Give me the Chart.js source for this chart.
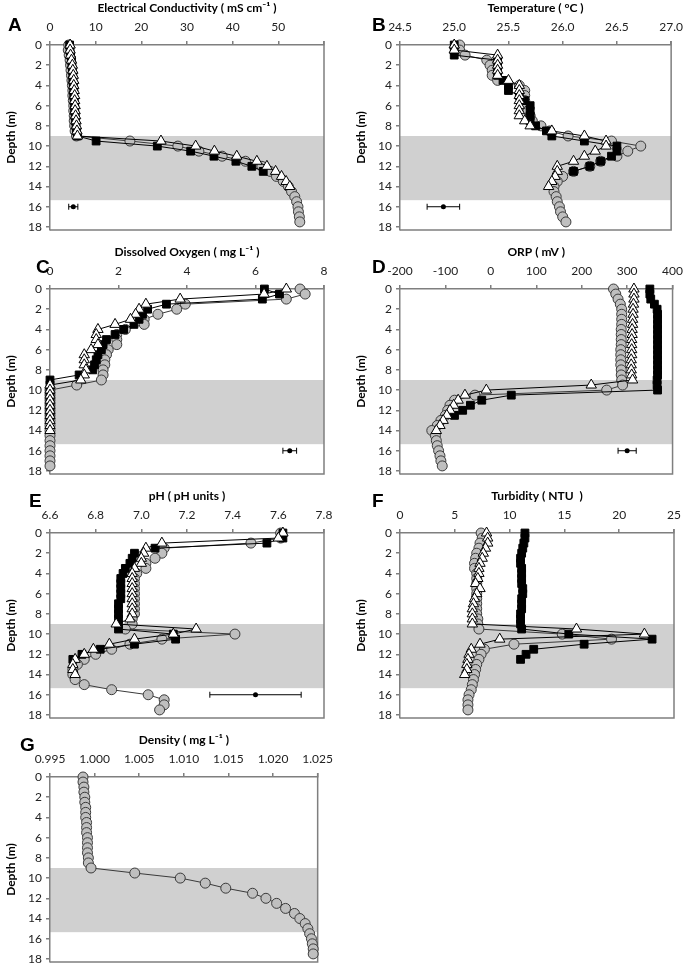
<!DOCTYPE html>
<html>
<head>
<meta charset="utf-8">
<script src="https://cdn.jsdelivr.net/npm/chart.js@4.4.0/dist/chart.umd.min.js"></script>
<style>
  body { margin: 0; background: #fff; width: 685px; height: 964px; position: relative; overflow: hidden; }
  .panel { position: absolute; width: 340px; height: 244px; }
  .tag { position: absolute; font: bold 19px 'Liberation Sans', Arial, sans-serif; line-height: 19px; color: #000; }
</style>
</head>
<body>
<div class="panel" style="left:0;top:0"><canvas id="chartA" width="340" height="244"></canvas></div>
<div class="panel" style="left:350px;top:0"><canvas id="chartB" width="340" height="244"></canvas></div>
<div class="panel" style="left:0;top:244px"><canvas id="chartC" width="340" height="244"></canvas></div>
<div class="panel" style="left:350px;top:244px"><canvas id="chartD" width="340" height="244"></canvas></div>
<div class="panel" style="left:0;top:488px"><canvas id="chartE" width="340" height="244"></canvas></div>
<div class="panel" style="left:350px;top:488px"><canvas id="chartF" width="340" height="244"></canvas></div>
<div class="panel" style="left:0;top:732px"><canvas id="chartG" width="340" height="244"></canvas></div>
<div class="tag" style="left:8px;top:15px">A</div>
<div class="tag" style="left:372px;top:15px">B</div>
<div class="tag" style="left:36px;top:257px">C</div>
<div class="tag" style="left:372px;top:257px">D</div>
<div class="tag" style="left:29px;top:491px">E</div>
<div class="tag" style="left:372px;top:491px">F</div>
<div class="tag" style="left:20px;top:735px">G</div>
<script>
/* depth profiles: squares, triangles, circles; grey band = transition layer */

const depths = [0, 0.5, 1, 1.5, 2, 2.5, 3, 3.5, 4, 4.5, 5, 5.5, 6, 6.5, 7, 7.5, 8, 8.5, 9,
  9.5, 10, 10.5, 11, 11.5, 12, 12.5, 13, 13.5, 14, 14.5, 15, 15.5, 16, 16.5, 17, 17.5];
const depthTicks = [0, 2, 4, 6, 8, 10, 12, 14, 16, 18];
const band = [9, 15.35];
const errDepth = 16;

// A  Electrical conductivity
const ecTicks = [0, 10, 20, 30, 40, 50, 60];
const ecLabels = ['0', '10', '20', '30', '40', '50', ''];
const ecSquare = [4.3, 4.4, 4.5, 4.7, 4.8, 4.9, 5.0, 5.0, 5.1, 5.2, 5.2, 5.3, 5.4, 5.4, 5.5, 5.6, 5.7, 5.8, 6.0,
  10.1, 23.5, 30.8, 35.9, 40.7, 44.2, 46.7];
const ecTriangle = [4.4, 4.4, 4.5, 4.7, 4.9, 5.0, 5.1, 5.2, 5.2, 5.3, 5.4, 5.4, 5.5, 5.5, 5.6, 5.7, 5.8, 5.9, 6.0,
  24.3, 31.9, 36.0, 40.9, 45.3, 47.5, 49.4, 50.7, 51.7, 52.5];
const ecCircle = [4.1, 4.0, 4.2, 4.4, 4.5, 4.6, 4.7, 4.8, 4.9, 5.0, 5.0, 5.1, 5.2, 5.2, 5.3, 5.3, 5.4, 5.5, 5.8,
  17.5, 28.0, 32.6, 37.7, 42.8, 46.4, 48.2, 49.6, 51.1, 52.2, 52.9, 53.6, 54.0, 54.3, 54.4, 54.6, 54.7];
const ecError = [5.1, 1.0];

// B  Temperature
const tTicks = [24.5, 25.0, 25.5, 26.0, 26.5, 27.0];
const tLabels = ['24.5', '25.0', '25.5', '26.0', '26.5', '27.0'];
const tSquare = [25.0, 25.0, 25.0, 25.4, 25.4, 25.4, 25.4, 25.45, 25.5, 25.5, 25.6, 25.65, 25.7, 25.7, 25.7, 25.7, 25.75, 25.85, 25.9,
  26.2, 26.5, 26.5, 26.45, 26.35, 26.25, 26.1];
const tTriangle = [25.0, 25.0, 25.4, 25.4, 25.4, 25.4, 25.4, 25.5, 25.6, 25.6, 25.6, 25.6, 25.6, 25.6, 25.6, 25.65, 25.7, 25.9, 26.2,
  26.4, 26.4, 26.3, 26.2, 26.1, 25.95, 25.95, 25.93, 25.9, 25.87];
const tCircle = [25.05, 25.05, 25.1, 25.3, 25.33, 25.35, 25.35, 25.4, 25.6, 25.65, 25.65, 25.65, 25.65, 25.68, 25.7, 25.72, 25.8, 25.88, 26.05,
  26.45, 26.72, 26.6, 26.5, 26.35, 26.25, 26.1, 26.0, 25.95, 25.92, 25.92, 25.94, 25.95, 25.97, 25.98, 26.0, 26.03];
const tError = [24.9, 0.15];

// C  Dissolved oxygen
const doTicks = [0, 2, 4, 6, 8];
const doLabels = ['0', '2', '4', '6', '8'];
const doSquare = [6.26, 6.7, 6.2, 3.4, 2.85, 2.7, 2.6, 2.45, 2.15, 1.9, 1.65, 1.55, 1.5, 1.4, 1.35, 1.3, 1.25, 0.85, 0,
  0, 0, 0, 0, 0, 0, 0];
const doTriangle = [6.9, 6.25, 3.8, 2.8, 2.6, 2.5, 2.35, 1.9, 1.4, 1.35, 1.35, 1.4, 1.2, 1.0, 1.0, 1.0, 1.05, 1.0, 0.9,
  0, 0, 0, 0, 0, 0, 0, 0, 0, 0];
const doCircle = [7.3, 7.45, 6.9, 3.95, 3.7, 3.15, 2.75, 2.75, 2.2, 1.95, 1.95, 1.95, 1.7, 1.65, 1.6, 1.6, 1.55, 1.55, 1.5,
  0.78, 0, 0, 0, 0, 0, 0, 0, 0, 0, 0, 0, 0, 0, 0, 0, 0];
const doError = [7.0, 0.2];

// D  ORP
const orpTicks = [-200, -100, 0, 100, 200, 300, 400];
const orpLabels = ['-200', '-100', '0', '100', '200', '300', '400'];
const orpSquare = [350, 350, 352, 360, 366, 367, 367, 367, 367, 367, 367, 367, 367, 367, 367, 367, 367, 367, 366,
  366, 367, 45, -20, -45, -62, -80];
const orpTriangle = [315, 315, 315, 314, 313, 313, 312, 312, 311, 311, 310, 310, 310, 310, 309, 309, 309, 310, 312,
  221, -10, -57, -72, -82, -90, -97, -105, -112, -120];
const orpCircle = [270, 275, 280, 285, 288, 288, 288, 288, 287, 287, 287, 287, 286, 286, 286, 286, 287, 287, 288,
  290, 255, -35, -80, -90, -95, -100, -110, -118, -130, -122, -120, -118, -115, -112, -110, -107];
const orpError = [300, 20];

// E  pH
const phTicks = [6.6, 6.8, 7.0, 7.2, 7.4, 7.6, 7.8];
const phLabels = ['6.6', '6.8', '7.0', '7.2', '7.4', '7.6', '7.8'];
const phSquare = [7.62, 7.62, 7.55, 7.06, 6.97, 6.96, 6.95, 6.93, 6.92, 6.91, 6.91, 6.91, 6.91, 6.91, 6.9, 6.9, 6.9, 6.9, 6.9,
  6.9, 7.14, 7.15, 6.97, 6.82, 6.74, 6.7];
const phTriangle = [7.62, 7.6, 7.09, 7.02, 7.01, 7.0, 7.0, 6.97, 6.96, 6.96, 6.96, 6.96, 6.96, 6.96, 6.96, 6.96, 6.96, 6.95, 6.89,
  7.24, 7.14, 6.97, 6.86, 6.79, 6.75, 6.71, 6.7, 6.7, 6.71];
const phCircle = [7.61, 7.61, 7.48, 7.1, 7.09, 7.06, 7.02, 7.02, 6.98, 6.97, 6.97, 6.97, 6.97, 6.97, 6.97, 6.97, 6.97, 6.96, 6.96,
  6.93, 7.41, 7.09, 6.95, 6.87, 6.8, 6.75, 6.72, 6.7, 6.7, 6.71, 6.75, 6.87, 7.03, 7.1, 7.1, 7.08];
const phError = [7.5, 0.2];

// F  Turbidity
const tuTicks = [0, 5, 10, 15, 20, 25];
const tuLabels = ['0', '5', '10', '15', '20', '25'];
const tuSquare = [11.4, 11.4, 11.3, 11.2, 11.1, 11.0, 11.0, 11.1, 11.1, 11.1, 11.1, 11.2, 11.2, 11.1, 11.1, 11.1, 11.0, 11.0, 11.0,
  11.1, 15.4, 23.0, 16.8, 12.2, 11.5, 11.0];
const tuTriangle = [7.9, 8.0, 8.0, 7.8, 7.6, 7.5, 7.3, 7.2, 7.2, 7.1, 6.9, 7.3, 7.0, 6.8, 6.7, 6.6, 6.6, 6.6, 6.6,
  16.1, 22.3, 9.1, 7.3, 6.5, 6.3, 6.2, 6.1, 6.1, 5.9];
const tuCircle = [7.4, 7.5, 7.3, 7.2, 7.0, 6.9, 6.8, 6.8, 7.0, 7.0, 7.0, 7.0, 7.0, 7.0, 7.0, 7.0, 7.0, 7.1, 7.1,
  7.2, 14.8, 19.3, 10.4, 7.7, 7.4, 7.2, 7.0, 6.9, 6.8, 6.7, 6.6, 6.5, 6.3, 6.2, 6.2, 6.2];

// G  Density
const dnTicks = [0.995, 1.000, 1.005, 1.010, 1.015, 1.020, 1.025];
const dnLabels = ['0.995', '1.000', '1.005', '1.010', '1.015', '1.020', '1.025'];
const dnCircle = [0.9987, 0.9987, 0.9988, 0.9988, 0.9989, 0.9989, 0.9990, 0.9990, 0.9990, 0.9991, 0.9991, 0.9991, 0.9992, 0.9992,
  0.9992, 0.9992, 0.9993, 0.9993, 0.9996, 1.0045, 1.0096, 1.0124, 1.0147, 1.0177, 1.0192, 1.0204, 1.0214, 1.0224, 1.0230,
  1.0236, 1.0239, 1.0241, 1.0243, 1.0244, 1.0245, 1.0245];

const AXIS = '#7f7f7f';
const FONT = 'Lato, sans-serif';

const profilePlugin = {
  id: 'profile',
  beforeDraw(chart) {
    const { ctx, chartArea: a, scales } = chart;
    const y0 = scales.y.getPixelForValue(band[0]);
    const y1 = scales.y.getPixelForValue(band[1]);
    ctx.save();
    ctx.fillStyle = '#d0d0d0';
    ctx.fillRect(a.left, y0, a.right - a.left, y1 - y0);
    ctx.strokeStyle = AXIS;
    ctx.lineWidth = 1.5;
    ctx.beginPath();
    ctx.moveTo(a.right, a.top - 4);
    ctx.lineTo(a.right, a.bottom);
    ctx.lineTo(a.left, a.bottom);
    ctx.stroke();
    ctx.restore();
  },
  afterDatasetsDraw(chart, args, opts) {
    if (!opts.err) return;
    const { ctx, scales } = chart;
    const [v, sd] = opts.err;
    const y = scales.y.getPixelForValue(errDepth);
    const xa = scales.x.getPixelForValue(v - sd);
    const xb = scales.x.getPixelForValue(v + sd);
    const xm = scales.x.getPixelForValue(v);
    ctx.save();
    ctx.strokeStyle = '#000';
    ctx.lineWidth = 1;
    ctx.beginPath();
    ctx.moveTo(xa, y); ctx.lineTo(xb, y);
    ctx.moveTo(xa, y - 3); ctx.lineTo(xa, y + 3);
    ctx.moveTo(xb, y - 3); ctx.lineTo(xb, y + 3);
    ctx.stroke();
    ctx.fillStyle = '#000';
    ctx.beginPath();
    ctx.arc(xm, y, 2.5, 0, Math.PI * 2);
    ctx.fill();
    ctx.restore();
  },
};

function pts(vals) {
  return vals.map((v, i) => ({ x: v, y: depths[i] }));
}

function series(sq, tri, circ) {
  const out = [];
  if (tri) out.push({ data: pts(tri), pointStyle: 'triangle', pointRadius: 6, pointBackgroundColor: '#fff',
    pointBorderColor: '#000', borderColor: '#000', order: 1 });
  if (sq) out.push({ data: pts(sq), pointStyle: 'rect', pointRadius: 5.5, pointBackgroundColor: '#000',
    pointBorderColor: '#000', borderColor: '#000', order: 2 });
  out.push({ data: pts(circ), pointStyle: 'circle', pointRadius: 5, pointBackgroundColor: '#bfbfbf',
    pointBorderColor: '#3a3a3a', borderColor: '#3a3a3a', order: 3 });
  out.forEach((d) => Object.assign(d, { showLine: true, borderWidth: 1, pointBorderWidth: 1, tension: 0, clip: false }));
  return out;
}

function makePanel(id, title, ticks, labels, datasets, err, padRight) {
  new Chart(document.getElementById(id), {
    type: 'scatter',
    data: { datasets },
    options: {
      responsive: false,
      animation: false,
      events: [],
      layout: { padding: { left: 0, top: 0, right: padRight || 16, bottom: 14 } },
      plugins: { legend: { display: false }, tooltip: { enabled: false }, profile: { err } },
      scales: {
        x: {
          type: 'linear', position: 'top', min: ticks[0], max: ticks[ticks.length - 1],
          afterBuildTicks: (s) => { s.ticks = ticks.map((v) => ({ value: v })); },
          afterFit: (s) => { s.height = 45; },
          ticks: { callback: (v, i) => labels[i], color: '#222', font: { family: FONT, size: 12 },
            padding: 7, maxRotation: 0, autoSkip: false },
          grid: { drawOnChartArea: false, tickLength: 4, color: AXIS, lineWidth: 1.5 },
          border: { color: AXIS, width: 1.5 },
          title: { display: true, text: title, color: '#000', font: { family: FONT, size: 12, weight: 'bold' },
            padding: { top: 1, bottom: 5 } },
        },
        y: {
          type: 'linear', reverse: true, min: 0, max: 18.3,
          afterBuildTicks: (s) => { s.ticks = depthTicks.map((v) => ({ value: v })); },
          afterFit: (s) => { s.width = 50; },
          ticks: { color: '#222', font: { family: FONT, size: 12 }, padding: 4 },
          grid: { drawOnChartArea: false, tickLength: 4, color: AXIS, lineWidth: 1.5 },
          border: { color: AXIS, width: 1.5 },
          title: { display: true, text: 'Depth (m)', color: '#000', font: { family: FONT, size: 12, weight: 'bold' },
            padding: { top: 4, bottom: 0 } },
        },
      },
    },
    plugins: [profilePlugin],
  });
}

makePanel('chartA', 'Electrical Conductivity ( mS cm\u207B\u00B9 )', ecTicks, ecLabels, series(ecSquare, ecTriangle, ecCircle), ecError);
makePanel('chartB', 'Temperature ( \u00B0C )', tTicks, tLabels, series(tSquare, tTriangle, tCircle), tError);
makePanel('chartC', 'Dissolved Oxygen ( mg L\u207B\u00B9 )', doTicks, doLabels, series(doSquare, doTriangle, doCircle), doError);
makePanel('chartD', 'ORP ( mV )', orpTicks, orpLabels, series(orpSquare, orpTriangle, orpCircle), orpError);
makePanel('chartE', 'pH ( pH units )', phTicks, phLabels, series(phSquare, phTriangle, phCircle), phError);
makePanel('chartF', 'Turbidity ( NTU  )', tuTicks, tuLabels, series(tuSquare, tuTriangle, tuCircle), null);
makePanel('chartG', 'Density ( mg L\u207B\u00B9 )', dnTicks, dnLabels, series(null, null, dnCircle), null, 22);
</script>
</body>
</html>
